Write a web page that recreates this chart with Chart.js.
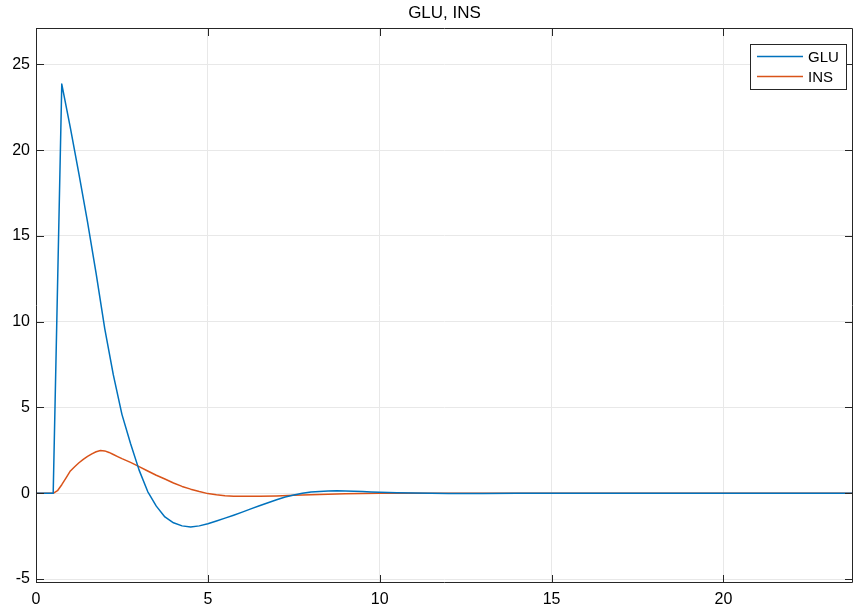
<!DOCTYPE html>
<html lang="en">
<head>
<meta charset="UTF-8">
<title>GLU, INS</title>
<script src="https://cdn.jsdelivr.net/npm/chart.js"></script>
<style>
  html,body{margin:0;padding:0;background:#fff}
  #wrap{width:854px;height:609px}
</style>
</head>
<body>
<div id="wrap"><canvas id="c" width="854" height="609"></canvas></div>
<script>
// GLU samples (step 0.25 up to 12, then coarser)
const gluT = [0,0.25,0.5,0.75,1,1.25,1.5,1.75,2,2.25,2.5,2.75,3,3.25,3.5,3.75,4,4.25,4.5,4.75,5,
  5.25,5.5,5.75,6,6.25,6.5,6.75,7,7.25,7.5,7.75,8,8.25,8.5,8.75,9,9.25,9.5,9.75,10,10.5,11,11.5,12,
  13,14,15,16,18,20,22,24];
const gluVals = [0,0,0,23.85,21.3,18.6,15.8,12.8,9.6,6.9,4.6,2.9,1.35,0.1,-0.75,-1.38,-1.72,-1.9,-1.97,-1.9,-1.78,
  -1.62,-1.45,-1.28,-1.1,-0.91,-0.73,-0.55,-0.38,-0.22,-0.1,0.0,0.07,0.11,0.13,0.14,0.13,0.12,0.1,0.08,0.06,0.03,0.01,0,-0.01,
  -0.01,0,0,0,0,0,0,0];
// INS samples (finer around the hump)
const insT = [0,0.25,0.5,0.625,0.75,0.875,1,1.125,1.25,1.375,1.5,1.625,1.75,1.875,2,2.125,2.25,2.375,2.5,
  2.75,3,3.25,3.5,3.75,4,4.25,4.5,4.75,5,5.25,5.5,5.75,6,6.5,7,7.5,8,8.5,9,9.5,10,11,12,14,16,18,20,22,24];
const insVals = [0,0,0,0.15,0.5,0.9,1.3,1.55,1.78,1.98,2.15,2.3,2.42,2.49,2.47,2.38,2.26,2.14,2.02,
  1.8,1.55,1.3,1.05,0.83,0.6,0.4,0.24,0.1,-0.02,-0.09,-0.14,-0.17,-0.18,-0.18,-0.16,-0.12,-0.08,-0.05,-0.03,-0.01,0,0,0,0,0,0,0,0,0];
const xTicks = [0,5,10,15,20];
const yTicks = [-5,0,5,10,15,20,25];
const seriesNames = ['GLU','INS'];
const seriesColors = ['#0072BD','#D95319'];
const titleText = 'GLU, INS';

const FONT = 'Helvetica, "Liberation Sans", Arial, sans-serif';
const AXIS = '#262626';

// title over the axes, box + inward ticks on all four sides, legend top right
const boxPlugin = {
  id:'box',
  afterDraw(chart){
    const {ctx, chartArea:a, scales:{x,y}} = chart;
    const tl = 8;
    ctx.save();
    ctx.fillStyle = '#000';
    ctx.font = '17px ' + FONT;
    ctx.textAlign = 'center';
    ctx.textBaseline = 'middle';
    ctx.fillText(titleText, (a.left+a.right)/2, 13);

    ctx.strokeStyle = AXIS;
    ctx.lineWidth = 1;
    ctx.beginPath();
    ctx.rect(a.left+0.5, a.top+0.5, a.right-a.left-1, a.bottom-a.top-1);
    xTicks.forEach(v=>{
      const px = Math.round(x.getPixelForValue(v))+0.5;
      ctx.moveTo(px,a.bottom); ctx.lineTo(px,a.bottom-tl);
      ctx.moveTo(px,a.top); ctx.lineTo(px,a.top+tl);
    });
    yTicks.forEach(v=>{
      const py = Math.round(y.getPixelForValue(v))+0.5;
      ctx.moveTo(a.left,py); ctx.lineTo(a.left+tl,py);
      ctx.moveTo(a.right,py); ctx.lineTo(a.right-tl,py);
    });
    ctx.stroke();

    // legend
    const lx = 750, ly = 44, lw = 96, lh = 45;
    ctx.fillStyle = '#fff';
    ctx.fillRect(lx, ly, lw, lh);
    ctx.strokeStyle = AXIS;
    ctx.strokeRect(lx+0.5, ly+0.5, lw, lh);
    ctx.font = '15px ' + FONT;
    ctx.textAlign = 'left';
    ctx.textBaseline = 'middle';
    chart.data.datasets.forEach((ds,i)=>{
      const yy = ly + 12.5 + i*20;
      ctx.strokeStyle = ds.borderColor;
      ctx.lineWidth = 1.5;
      ctx.beginPath(); ctx.moveTo(lx+7, yy); ctx.lineTo(lx+53, yy); ctx.stroke();
      ctx.fillStyle = '#000';
      ctx.fillText(ds.label, lx+58, yy+1);
    });
    ctx.restore();
  }
};

new Chart(document.getElementById('c'), {
  type:'line',
  data:{
    datasets: seriesNames.map((name,i)=>{
      const ts = i===0 ? gluT : insT;
      const vs = i===0 ? gluVals : insVals;
      return {
        label:name,
        data: ts.map((t,k)=>({x:t, y:vs[k]})),
        borderColor:seriesColors[i],
        borderWidth:1.5,
        borderJoinStyle:'round',
        pointRadius:0,
        tension:0,
        fill:false
      };
    })
  },
  options:{
    responsive:false,
    animation:false,
    devicePixelRatio:1,
    layout:{padding:{left:0,right:1,top:28,bottom:0}},
    plugins:{
      legend:{display:false},
      tooltip:{enabled:false},
      title:{display:false}
    },
    scales:{
      x:{
        type:'linear', min:0, max:23.77,
        afterBuildTicks(s){ s.ticks = xTicks.map(v=>({value:v})); },
        afterFit(s){ s.height = 26; },
        grid:{color:'#e8e8e8',drawTicks:false},
        border:{display:false},
        ticks:{color:'#000',font:{family:FONT,size:16},padding:7,maxRotation:0,autoSkip:false}
      },
      y:{
        type:'linear', min:-5.23, max:27.12,
        afterBuildTicks(s){ s.ticks = yTicks.map(v=>({value:v})); },
        afterFit(s){ s.width = 36; },
        grid:{color:'#e8e8e8',drawTicks:false},
        border:{display:false},
        ticks:{color:'#000',font:{family:FONT,size:16},padding:6}
      }
    }
  },
  plugins:[boxPlugin]
});
</script>
</body>
</html>
